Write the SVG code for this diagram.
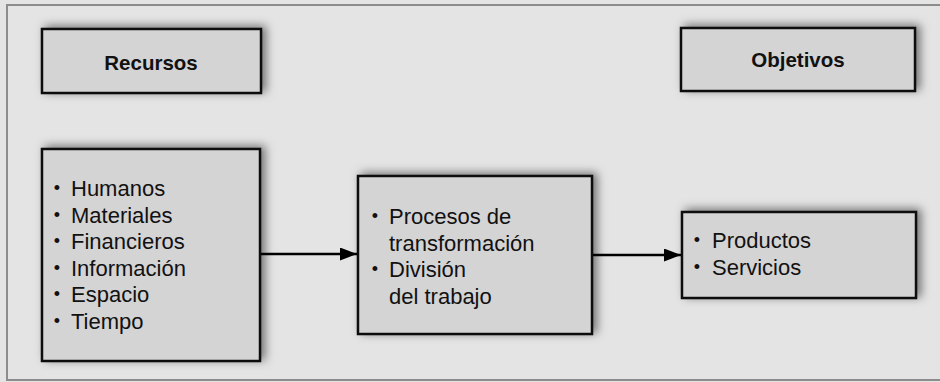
<svg xmlns="http://www.w3.org/2000/svg" width="940" height="382" viewBox="0 0 940 382">
<defs>
<filter id="sh" x="-20%" y="-30%" width="140%" height="160%">
<feDropShadow dx="4" dy="-2" stdDeviation="5" flood-color="#000" flood-opacity="0.5"/>
</filter>
<marker id="ah" markerWidth="17" markerHeight="13" refX="17" refY="6.5" orient="auto" markerUnits="userSpaceOnUse">
<path d="M0,0 L17,6.5 L0,13 Z" fill="#000"/>
</marker>
</defs>
<style>
.box{fill:#d4d4d4;stroke:#111;stroke-width:2.5;filter:url(#sh)}
.t{font-family:"Liberation Sans",Arial,sans-serif;font-size:22px;fill:#111}
.b{text-anchor:middle;font-size:18px}
.h{font-family:"Liberation Sans",Arial,sans-serif;font-size:20.5px;font-weight:bold;fill:#111;text-anchor:middle}
.c{stroke:#000;stroke-width:2.5;fill:none;marker-end:url(#ah)}
</style>
<rect x="0" y="0" width="940" height="382" fill="#e4e4e4"/>
<rect x="7" y="5" width="940" height="375" fill="#e4e4e4" stroke="#8c8c8c" stroke-width="2"/>
<g id="recursos">
<rect class="box" x="42" y="29" width="219" height="64"/>
<text class="h" x="151" y="70">Recursos</text>
</g>
<g id="objetivos">
<rect class="box" x="681" y="28" width="234" height="63"/>
<text class="h" x="798" y="67">Objetivos</text>
</g>
<g id="lista-recursos">
<rect class="box" x="42" y="149" width="218" height="212"/>
<text class="t b" x="57" y="194">•</text><text class="t" x="71" y="196">Humanos</text>
<text class="t b" x="57" y="220.5">•</text><text class="t" x="71" y="222.5">Materiales</text>
<text class="t b" x="57" y="247">•</text><text class="t" x="71" y="249">Financieros</text>
<text class="t b" x="57" y="273.5">•</text><text class="t" x="71" y="275.5">Información</text>
<text class="t b" x="57" y="300">•</text><text class="t" x="71" y="302">Espacio</text>
<text class="t b" x="57" y="326.5">•</text><text class="t" x="71" y="328.5">Tiempo</text>
</g>
<g id="procesos">
<rect class="box" x="358" y="176" width="234" height="158"/>
<text class="t b" x="375" y="222">•</text><text class="t" x="389" y="224">Procesos de</text>
<text class="t" x="389" y="250.5">transformación</text>
<text class="t b" x="375" y="275">•</text><text class="t" x="389" y="277">División</text>
<text class="t" x="389" y="303.5">del trabajo</text>
</g>
<g id="resultados">
<rect class="box" x="682" y="212" width="234" height="86"/>
<text class="t b" x="697" y="246">•</text><text class="t" x="712" y="248">Productos</text>
<text class="t b" x="697" y="273">•</text><text class="t" x="712" y="275">Servicios</text>
</g>
<g id="conectores">
<line class="c" x1="261" y1="254" x2="357" y2="254"/>
<line class="c" x1="593" y1="255" x2="681" y2="255"/>
</g>
</svg>
